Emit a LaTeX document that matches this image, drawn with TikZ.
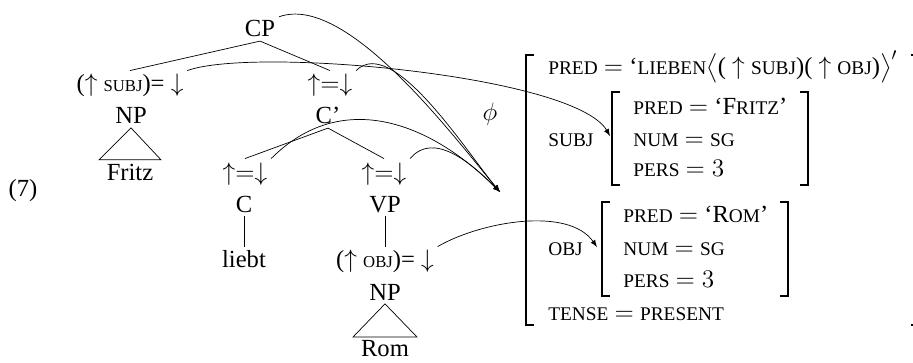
\documentclass[tikz,border=0pt]{standalone}
\usepackage{amsmath}
\usepackage{amssymb}
\usepackage{fontspec}
\setmainfont{Liberation Serif}
\usepackage{tikz}
\usetikzlibrary{arrows}
\usetikzlibrary{calc}
\newcommand{\fsc}[1]{{\fontsize{11}{12}\selectfont #1}}
\newcommand{\tsc}[1]{{\fontsize{9.5}{10}\selectfont #1}}

\begin{document}
\begin{tikzpicture}[font=\fontsize{14}{17}\selectfont,
  tnode/.style={anchor=base, inner sep=2pt},
  avm/.style={anchor=base west, inner sep=0pt},
  brak/.style={line width=1pt},
  phimap/.style={->, >=latex}]

  \useasboundingbox (0,0) rectangle (18.26,7.24);
  % \draw[help lines] (0,0) grid (18.26,7.24);

  % Example number
  \node[tnode] (Ex) at (0.46,3.30) {(7)};

  % c-structure
  \node[tnode] (CP) at (5.20,6.50) {CP};
  \node[tnode] (SubjAnn) at (2.60,5.40) {($\uparrow$ \tsc{SUBJ})= $\downarrow$};
  \node[tnode] (CbarAnn) at (6.60,5.40) {$\uparrow=\downarrow$};
  \node[tnode] (NPs) at (2.62,4.76) {NP};
  \node[tnode] (Cbar) at (6.56,4.76) {C'};
  \node[tnode] (Fritz) at (2.60,3.64) {Fritz};
  \node[tnode] (CAnn) at (4.90,3.64) {$\uparrow=\downarrow$};
  \node[tnode] (VPAnn) at (7.68,3.64) {$\uparrow=\downarrow$};
  \node[tnode] (C) at (4.88,3.00) {C};
  \node[tnode] (VP) at (7.70,3.00) {VP};
  \node[tnode] (liebt) at (4.88,1.88) {liebt};
  \node[tnode] (ObjAnn) at (7.70,1.88) {($\uparrow$ \tsc{OBJ})= $\downarrow$};
  \node[tnode] (NPo) at (7.70,1.24) {NP};
  \node[tnode] (Rom) at (7.70,0.10) {Rom};

  \draw (CP.south) -- (SubjAnn.north);
  \draw (CP.south) -- (CbarAnn.north);
  \draw (NPs.south) -- ($(Fritz.north)+(-0.62,0)$) -- ($(Fritz.north)+(0.62,0)$) -- cycle;
  \draw (Cbar.south) -- (CAnn.north);
  \draw (Cbar.south) -- (VPAnn.north);
  \draw (C.south) -- (liebt.north);
  \draw (VP.south) -- (ObjAnn.north);
  \draw (NPo.south) -- ($(Rom.north)+(-0.64,0)$) -- ($(Rom.north)+(0.64,0)$) -- cycle;

  % f-structure
  \node[tnode] (Phi) at (9.80,4.82) {$\phi$};

  \node[avm] (Pred) at (10.96,5.74) {\fsc{PRED} $=$ `\fsc{LIEBEN}$\big\langle$( $\uparrow$ \fsc{SUBJ})( $\uparrow$ \fsc{OBJ})$\big\rangle'$};
  \node[avm] (Subj) at (10.96,4.30) {\fsc{SUBJ}};
  \node[avm] (Obj) at (10.96,2.14) {\fsc{OBJ}};
  \node[avm] (Tense) at (10.96,0.84) {\fsc{TENSE} $=$ \fsc{PRESENT}};

  \node[avm] (SubjPred) at (12.66,4.94) {\fsc{PRED} $=$ `F\fsc{RITZ}'};
  \node[avm] (SubjNum) at (12.66,4.30) {\fsc{NUM} $=$ \fsc{SG}};
  \node[avm] (SubjPers) at (12.66,3.70) {\fsc{PERS} $= 3$};

  \node[avm] (ObjPred) at (12.46,2.78) {\fsc{PRED} $=$ `R\fsc{OM}'};
  \node[avm] (ObjNum) at (12.46,2.14) {\fsc{NUM} $=$ \fsc{SG}};
  \node[avm] (ObjPers) at (12.46,1.50) {\fsc{PERS} $= 3$};

  % Brackets
  \draw[brak] (10.68,6.14) -- (10.52,6.14) -- (10.52,0.74) -- (10.68,0.74);
  \draw[brak] (18.22,6.14) -- (18.38,6.14) -- (18.38,0.74) -- (18.22,0.74);
  \draw[brak] (12.40,5.40) -- (12.24,5.40) -- (12.24,3.54) -- (12.40,3.54);
  \draw[brak] (16.00,5.40) -- (16.16,5.40) -- (16.16,3.54) -- (16.00,3.54);
  \draw[brak] (12.20,3.20) -- (12.04,3.20) -- (12.04,1.32) -- (12.20,1.32);
  \draw[brak] (15.60,3.20) -- (15.76,3.20) -- (15.76,1.32) -- (15.60,1.32);

  % Where the arrows end
  \coordinate (Outer) at (10.00,3.40);
  \coordinate (SubjF) at (12.20,4.52);
  \coordinate (ObjF) at (11.94,2.30);

  \draw[phimap] (CP.north east) to[out=20, in=130, looseness=0.65] (Outer);
  \draw[phimap] (CbarAnn.north east) to[out=45, in=130, looseness=0.7] (Outer);
  \draw[phimap] (CAnn.north east) to[out=45, in=135, looseness=1.1] (Outer);
  \draw[phimap] (VPAnn.north east) to[out=50, in=135] (Outer);
  \draw[phimap] (SubjAnn.north east) to[out=20, in=120, looseness=0.42] (SubjF);
  \draw[phimap] (ObjAnn.north east) to[out=30, in=125, looseness=0.8] (ObjF);

\end{tikzpicture}
\end{document}
